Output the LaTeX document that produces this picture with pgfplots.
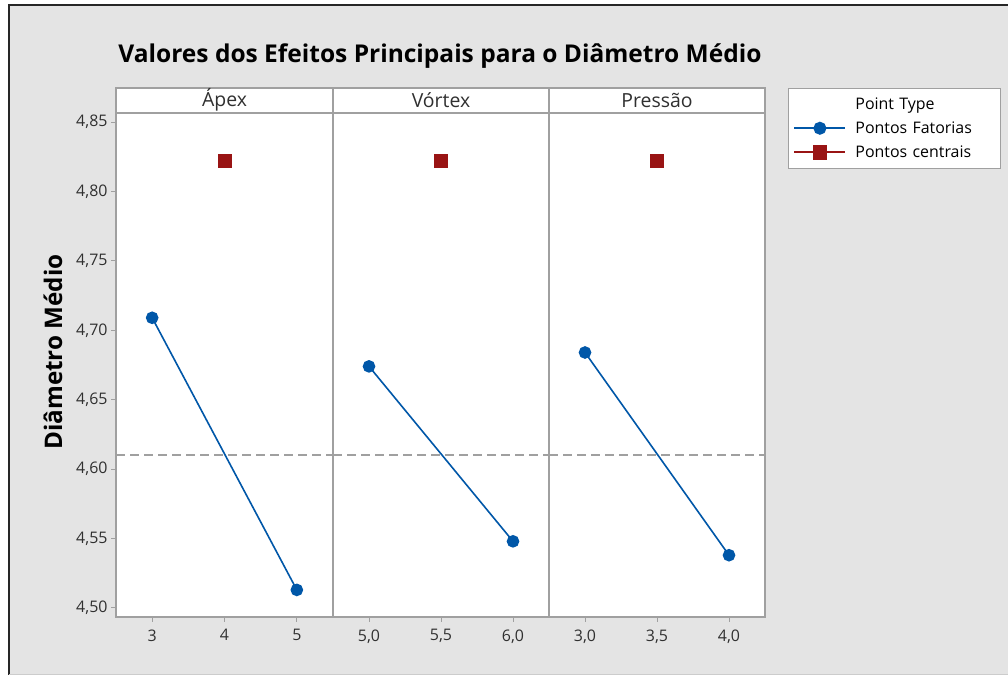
\documentclass[border=0pt]{standalone}
\usepackage{fontspec}
\setmainfont{Open Sans}
\usepackage{pgfplots}
\pgfplotsset{compat=1.18}

\definecolor{bggray}{HTML}{E4E4E4}
\definecolor{framegray}{HTML}{A0A0A0}
\definecolor{ticktext}{HTML}{303030}
\definecolor{mtblue}{HTML}{0057A8}
\definecolor{mtred}{HTML}{991414}

\pgfplotsset{
  panel/.style={
    scale only axis,
    height=504bp,
    ymin=4.4935, ymax=4.8565,
    axis background/.style={fill=white},
    axis line style={draw=framegray, line width=1.3bp},
    tick style={draw=framegray, line width=1bp},
    tick align=outside,
    major tick length=5bp,
    xtick pos=bottom,
    ytick pos=left,
    tick label style={font=\fontsize{16}{19}\selectfont, text=ticktext},
    xticklabel style={yshift=-4bp},
    clip=false,
  },
  fat/.style={color=mtblue, line width=1.6bp, mark=*, mark size=5.5bp},
  cen/.style={color=mtred, line width=1.6bp, mark=square*, mark size=6.2bp},
  media/.style={color=framegray, line width=1.5bp, dash pattern=on 9bp off 5bp, forget plot},
}

\begin{document}
\begin{tikzpicture}[x=1bp,y=1bp]
\useasboundingbox (0,0) rectangle (1008,675);
\fill[white] (0,0) rectangle (1008,675);
\fill[bggray] (9,1) rectangle (1008,670);
\draw[black!85, line width=2bp] (9,0) -- (9,670) -- (1008,670);
\draw[black!20, line width=1bp] (9,0.5) -- (1008,0.5);

% title and y label
\node[font=\bfseries\fontsize{24.6}{29}\selectfont] at (440,619) {Valores dos Efeitos Principais para o Diâmetro Médio};
\node[font=\bfseries\fontsize{24.3}{29}\selectfont, rotate=90] at (53,323) {Diâmetro Médio};

% Ápex
\begin{axis}[panel, at={(116bp,58bp)}, anchor=south west, width=217bp,
  xmin=2.5, xmax=5.5, xtick={3,4,5}, xticklabels={3,4,5},
  ytick={4.50,4.55,4.60,4.65,4.70,4.75,4.80,4.85},
  yticklabels={{4,50},{4,55},{4,60},{4,65},{4,70},{4,75},{4,80},{4,85}}]
\addplot[media] coordinates {(2.5,4.61) (5.5,4.61)};
\addplot[fat] coordinates {(3,4.709) (5,4.513)};
\addplot[cen] coordinates {(4,4.822)};
\end{axis}

% Vórtex
\begin{axis}[panel, at={(333bp,58bp)}, anchor=south west, width=216bp,
  xmin=4.75, xmax=6.25, xtick={5,5.5,6}, xticklabels={{5,0},{5,5},{6,0}},
  ytick=\empty]
\addplot[media] coordinates {(4.75,4.61) (6.25,4.61)};
\addplot[fat] coordinates {(5,4.674) (6,4.548)};
\addplot[cen] coordinates {(5.5,4.822)};
\end{axis}

% Pressão
\begin{axis}[panel, at={(549bp,58bp)}, anchor=south west, width=216bp,
  xmin=2.75, xmax=4.25, xtick={3,3.5,4}, xticklabels={{3,0},{3,5},{4,0}},
  ytick=\empty,
  legend cell align=left,
  legend image code/.code={\draw[mark repeat=2,mark phase=2] plot coordinates {(0bp,0bp) (25.5bp,0bp) (51bp,0bp)};},
  legend image post style={line width=2bp},
  legend style={at={(1.106,1.0496)}, anchor=north west, draw=framegray,
    line width=1bp, fill=white, font=\fontsize{16}{19}\selectfont,
    inner xsep=5bp, inner ysep=7bp, row sep=7bp, column sep=7bp,
    nodes={text width=138bp}}]
\addlegendimage{empty legend}
\addlegendentry{Point Type}
\addplot[media] coordinates {(2.75,4.61) (4.25,4.61)};
\addplot[fat] coordinates {(3,4.684) (4,4.538)};
\addlegendentry{Pontos Fatorias}
\addplot[cen] coordinates {(3.5,4.822)};
\addlegendentry{Pontos centrais}
\end{axis}

% header band
\draw[framegray, line width=1.3bp, fill=white] (116,562) rectangle (765,587);
\draw[framegray, line width=1.3bp] (333,562) -- (333,587) (549,562) -- (549,587);
\node[font=\fontsize{19.5}{23}\selectfont, text=ticktext] at (224.5,575) {Ápex};
\node[font=\fontsize{19.5}{23}\selectfont, text=ticktext] at (441,575) {Vórtex};
\node[font=\fontsize{19.5}{23}\selectfont, text=ticktext] at (657,575) {Pressão};
\end{tikzpicture}
\end{document}
